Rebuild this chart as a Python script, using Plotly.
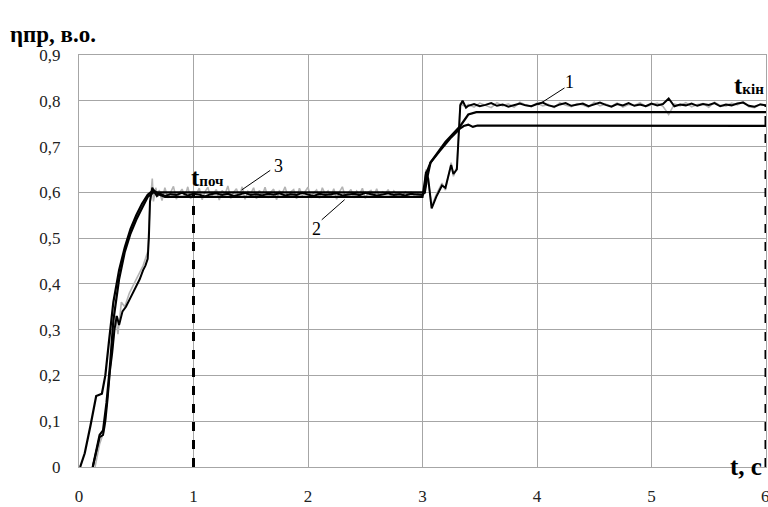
import plotly.graph_objects as go

# ---------------- data ----------------
x_ticks = [0, 1, 2, 3, 4, 5, 6]
y_ticks = [0, 0.1, 0.2, 0.3, 0.4, 0.5, 0.6, 0.7, 0.8, 0.9]
y_ticktext = ["0", "0,1", "0,2", "0,3", "0,4", "0,5", "0,6", "0,7", "0,8", "0,9"]

# curve 1 (measured, noisy) - start-up
c1_rise_t = [0.12, 0.15, 0.18, 0.21, 0.23, 0.25, 0.27, 0.29, 0.31, 0.33, 0.35, 0.38, 0.41,
             0.45, 0.49, 0.53, 0.56, 0.58, 0.60, 0.61, 0.62, 0.64, 0.66, 0.68]
c1_rise_v = [0.0, 0.03, 0.065, 0.07, 0.10, 0.15, 0.21, 0.25, 0.30, 0.33, 0.31, 0.34, 0.35,
             0.37, 0.39, 0.41, 0.43, 0.44, 0.455, 0.50, 0.58, 0.61, 0.60, 0.592]
# curve 1 - first steady state (t = 0.70 ... 3.00, step 0.05)
c1_flat1_v = [0.598, 0.592, 0.596, 0.594, 0.599, 0.593, 0.597, 0.595, 0.591, 0.596, 0.598, 0.594,
              0.597, 0.592, 0.595, 0.599, 0.594, 0.596, 0.593, 0.597, 0.595, 0.598, 0.593, 0.596,
              0.594, 0.599, 0.595, 0.592, 0.597, 0.594, 0.596, 0.598, 0.593, 0.595, 0.597, 0.594,
              0.599, 0.596, 0.593, 0.595, 0.598, 0.594, 0.596, 0.593, 0.597, 0.595, 0.594]
# curve 1 - transient after load step
c1_step_t = [3.02, 3.03, 3.05, 3.08, 3.12, 3.17, 3.20, 3.25, 3.27, 3.30, 3.33, 3.35, 3.38]
c1_step_v = [0.600, 0.645, 0.630, 0.565, 0.590, 0.615, 0.610, 0.660, 0.640, 0.650, 0.790, 0.800, 0.785]
# curve 1 - second steady state (t = 3.40 ... 6.00, step 0.05)
c1_flat2_v = [0.789, 0.793, 0.788, 0.791, 0.795, 0.789, 0.792, 0.787, 0.791, 0.794, 0.790, 0.788,
              0.793, 0.796, 0.790, 0.787, 0.792, 0.795, 0.789, 0.791, 0.794, 0.788, 0.792, 0.796,
              0.791, 0.787, 0.793, 0.790, 0.795, 0.789, 0.792, 0.788, 0.794, 0.790, 0.793, 0.805,
              0.788, 0.792, 0.790, 0.794, 0.789, 0.793, 0.791, 0.795, 0.788, 0.792, 0.790, 0.794,
              0.796, 0.789, 0.787, 0.792, 0.790]

# grey raw measurement - start-up
g_rise_t = [0.14, 0.18, 0.22, 0.25, 0.28, 0.30, 0.32, 0.34, 0.37, 0.40, 0.44, 0.48, 0.52, 0.56,
            0.60, 0.62, 0.64, 0.65, 0.67, 0.69]
g_rise_v = [0.0, 0.05, 0.08, 0.16, 0.24, 0.28, 0.33, 0.29, 0.36, 0.35, 0.38, 0.40, 0.42, 0.44,
            0.47, 0.57, 0.63, 0.58, 0.61, 0.59]
# grey - first steady state (t = 0.70 ... 3.00, step 0.025)
g_flat1_v = [0.605, 0.582, 0.610, 0.588, 0.600, 0.613, 0.585, 0.598, 0.607, 0.590, 0.612, 0.586,
             0.603, 0.596, 0.609, 0.584, 0.601, 0.611, 0.589, 0.598, 0.606, 0.583, 0.604, 0.595,
             0.614, 0.587, 0.600, 0.608, 0.590, 0.612, 0.585, 0.602, 0.597, 0.610, 0.586, 0.604,
             0.593, 0.611, 0.588, 0.600, 0.607, 0.584, 0.603, 0.598, 0.612, 0.589, 0.601, 0.606,
             0.586, 0.609, 0.594, 0.602, 0.611, 0.588, 0.599, 0.605, 0.587, 0.610, 0.596, 0.603,
             0.590, 0.608, 0.585, 0.601, 0.612, 0.591, 0.598, 0.606, 0.588, 0.603, 0.595, 0.609,
             0.587, 0.600, 0.604, 0.592, 0.608, 0.589, 0.601, 0.597, 0.606, 0.590, 0.603, 0.595,
             0.599, 0.593, 0.601, 0.596, 0.600, 0.594, 0.598, 0.596, 0.597]
# grey - transient
g_step_t = [3.02, 3.03, 3.05, 3.08, 3.12, 3.17, 3.20, 3.25, 3.27, 3.30, 3.33, 3.35, 3.38]
g_step_v = [0.605, 0.650, 0.625, 0.570, 0.595, 0.620, 0.605, 0.665, 0.635, 0.655, 0.795, 0.790, 0.788]
# grey - second steady state (t = 3.40 ... 6.00, step 0.05)
g_flat2_v = [0.792, 0.786, 0.795, 0.790, 0.785, 0.796, 0.789, 0.793, 0.786, 0.797, 0.791, 0.787,
             0.795, 0.789, 0.792, 0.785, 0.796, 0.790, 0.787, 0.794, 0.791, 0.786, 0.797, 0.789,
             0.793, 0.788, 0.795, 0.786, 0.792, 0.790, 0.796, 0.787, 0.791, 0.795, 0.788, 0.770,
             0.793, 0.789, 0.796, 0.787, 0.792, 0.794, 0.786, 0.797, 0.790, 0.788, 0.795, 0.791,
             0.798, 0.787, 0.785, 0.793, 0.789]

# curve 2 (model)
c2_t = [0.01, 0.05, 0.10, 0.15, 0.20, 0.23, 0.26, 0.30, 0.35, 0.40, 0.45, 0.50, 0.55, 0.60,
        0.65, 0.70, 0.75, 3.00, 3.03, 3.07, 3.15, 3.25, 3.33, 3.36, 3.40, 3.44, 3.48, 6.00]
c2_v = [0.0, 0.03, 0.09, 0.155, 0.16, 0.20, 0.27, 0.36, 0.43, 0.48, 0.52, 0.55, 0.575, 0.595,
        0.605, 0.595, 0.590, 0.590, 0.640, 0.665, 0.690, 0.720, 0.740, 0.745, 0.748, 0.743, 0.746, 0.745]

# curve 3 (model)
c3_t = [0.12, 0.16, 0.18, 0.21, 0.24, 0.27, 0.30, 0.35, 0.40, 0.45, 0.50, 0.55, 0.60, 0.65,
        0.70, 3.00, 3.02, 3.04, 3.07, 3.20, 3.33, 3.40, 3.47, 6.00]
c3_v = [0.0, 0.05, 0.07, 0.08, 0.14, 0.22, 0.32, 0.41, 0.47, 0.51, 0.54, 0.565, 0.59, 0.60,
        0.60, 0.60, 0.60, 0.63, 0.665, 0.71, 0.745, 0.77, 0.775, 0.775]

# dashed markers of start/end of the interval
mark_t = [1, 6]
mark_top = [0.595, 0.79]

# ---------------- assemble ----------------
def grid(start, step, n):
    return [round(start + step * i, 4) for i in range(n)]

c1_t = c1_rise_t + grid(0.70, 0.05, len(c1_flat1_v)) + c1_step_t + grid(3.40, 0.05, len(c1_flat2_v))
c1_v = c1_rise_v + c1_flat1_v + c1_step_v + c1_flat2_v
g_t = g_rise_t + grid(0.70, 0.025, len(g_flat1_v)) + g_step_t + grid(3.40, 0.05, len(g_flat2_v))
g_v = g_rise_v + g_flat1_v + g_step_v + g_flat2_v

fig = go.Figure()
fig.add_trace(go.Scatter(x=g_t, y=g_v, mode="lines", line=dict(color="#b4b4b4", width=1.6),
                         showlegend=False, hoverinfo="skip"))
fig.add_trace(go.Scatter(x=c2_t, y=c2_v, mode="lines", line=dict(color="black", width=2.2),
                         showlegend=False))
fig.add_trace(go.Scatter(x=c3_t, y=c3_v, mode="lines", line=dict(color="black", width=2.2),
                         showlegend=False))
fig.add_trace(go.Scatter(x=c1_t, y=c1_v, mode="lines", line=dict(color="black", width=2.0),
                         showlegend=False))
for t, top in zip(mark_t, mark_top):
    fig.add_trace(go.Scatter(x=[t, t], y=[0, top], mode="lines",
                             line=dict(color="black", width=3, dash="dash"),
                             showlegend=False, cliponaxis=False))

# leader lines for curve numbers
leaders = [((1.42, 0.605), (1.67, 0.648)),   # 3
           ((2.32, 0.584), (2.12, 0.540)),   # 2
           ((4.01, 0.791), (4.24, 0.828))]   # 1
for (x0, y0), (x1, y1) in leaders:
    fig.add_trace(go.Scatter(x=[x0, x1], y=[y0, y1], mode="lines",
                             line=dict(color="black", width=1), showlegend=False))

serif = "Liberation Serif, serif"
ann = [
    dict(x=1.74, y=0.657, text="3"),
    dict(x=2.07, y=0.520, text="2"),
    dict(x=4.28, y=0.842, text="1"),
]
for a in ann:
    fig.add_annotation(x=a["x"], y=a["y"], text=a["text"], showarrow=False,
                       font=dict(family=serif, size=18, color="black"))

# last x tick label (partly hidden at the right edge, as in the original)
fig.add_annotation(x=x_ticks[-1], y=0, yshift=-29, xshift=-1, text=str(x_ticks[-1]),
                   showarrow=False, font=dict(family=serif, size=17, color="#222"))

fig.add_annotation(x=0.96, y=0.633, xanchor="left", showarrow=False,
                   text="<b>t</b><span style='font-size:15px'><b>поч</b></span>",
                   font=dict(family=serif, size=25, color="black"))
fig.add_annotation(x=6.0, y=0.833, xanchor="right", showarrow=False,
                   text="<b>t</b><span style='font-size:15px'><b>кін</b></span>",
                   font=dict(family=serif, size=25, color="black"))
fig.add_annotation(xref="paper", yref="paper", x=0.997, y=-0.036, xanchor="right", showarrow=False,
                   text="<b>t, с</b>", font=dict(family=serif, size=25, color="black"))
fig.add_annotation(xref="paper", yref="paper", x=-0.104, y=1.085, xanchor="left",
                   showarrow=False, text="<b>ηпр, в.о.</b>",
                   font=dict(family=serif, size=23, color="black"))

fig.update_xaxes(range=[0, 6], tickvals=x_ticks[:-1], ticktext=[str(v) for v in x_ticks[:-1]],
                 showgrid=True, gridcolor="#a6a6a6", gridwidth=1.3,
                 showline=True, linecolor="#a6a6a6", linewidth=1.3, mirror=True,
                 zeroline=False, ticks="", ticklabelstandoff=13, automargin=False,
                 tickfont=dict(family=serif, size=17, color="#222"))
fig.update_yaxes(range=[0, 0.9], tickvals=y_ticks, ticktext=y_ticktext,
                 showgrid=True, gridcolor="#a6a6a6", gridwidth=1.3,
                 showline=True, linecolor="#a6a6a6", linewidth=1.3, mirror=True,
                 zeroline=False, ticks="", ticklabelstandoff=14, automargin=False,
                 tickfont=dict(family=serif, size=17, color="#222"))

fig.update_layout(width=768, height=507, margin=dict(l=79, r=2, t=55, b=40, autoexpand=False),
                  font=dict(family=serif, color="#222"),
                  paper_bgcolor="white", plot_bgcolor="white")

fig.write_html("out.html", config={"displayModeBar": False},
               post_script="document.body.style.margin='0';document.body.style.overflow='hidden';")
